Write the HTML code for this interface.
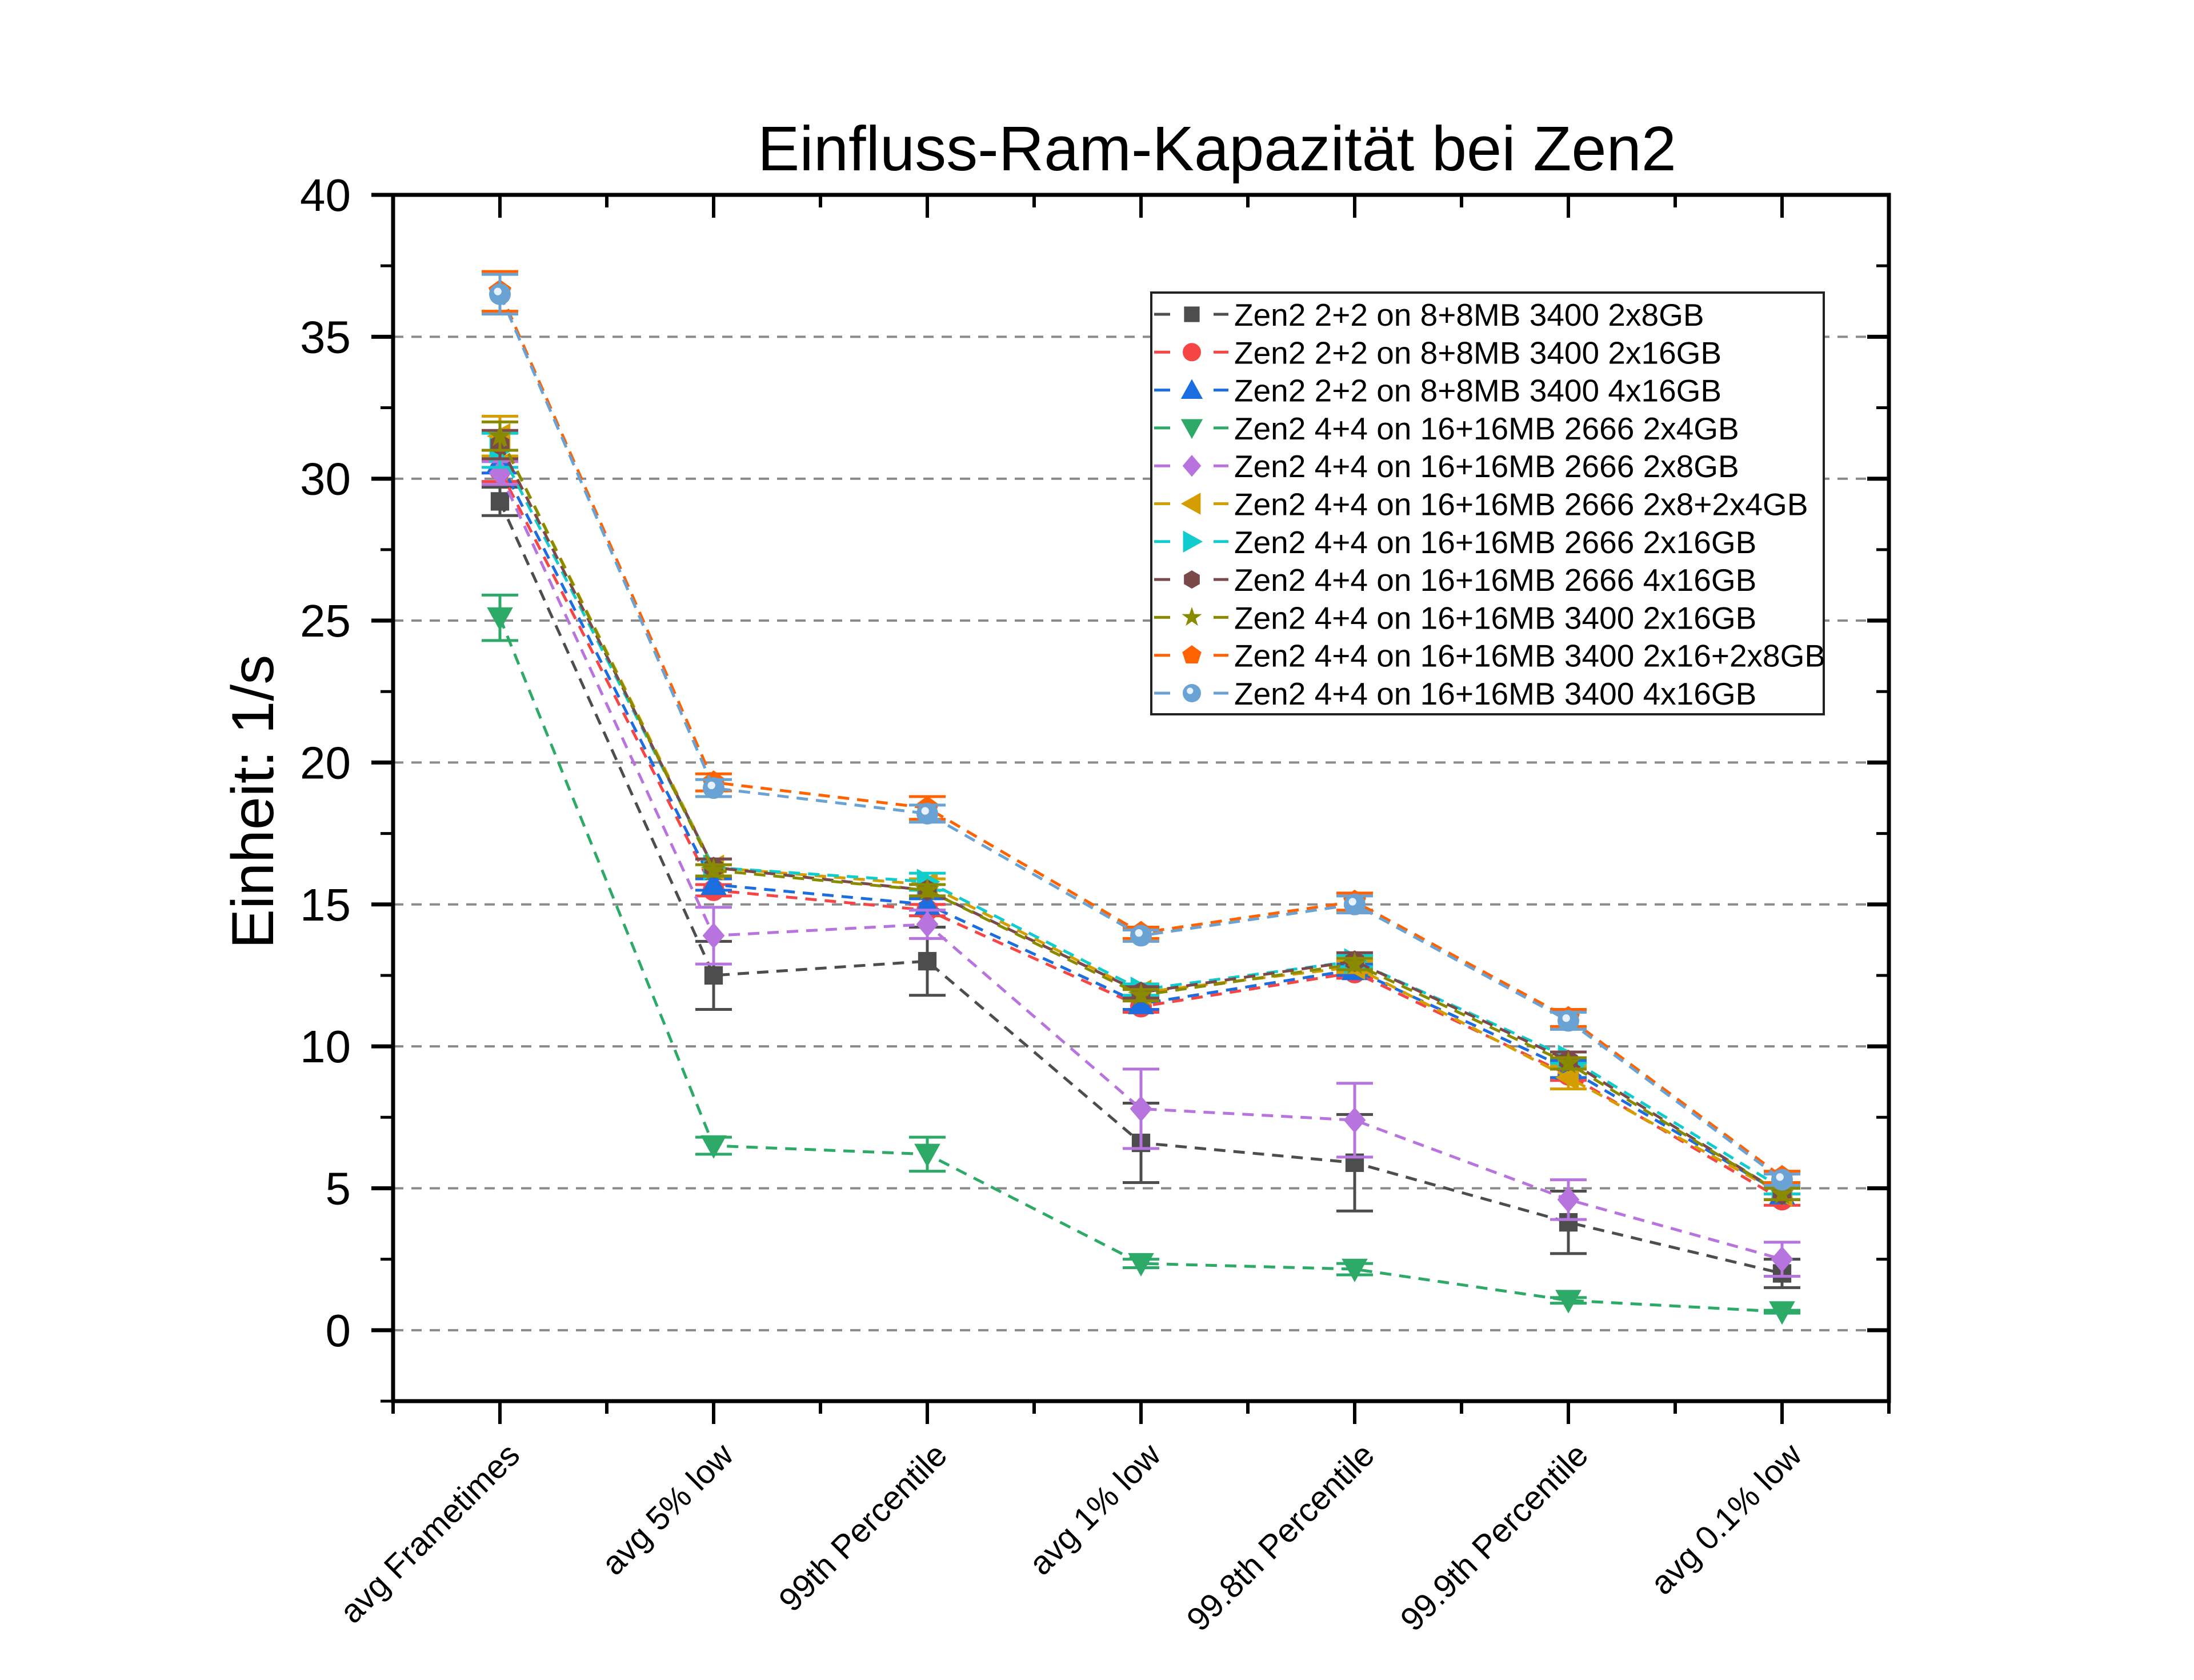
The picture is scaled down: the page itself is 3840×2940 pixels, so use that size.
<!DOCTYPE html>
<html><head><meta charset="utf-8"><style>html,body{margin:0;padding:0;background:#fff}svg{display:block}text{font-family:"Liberation Sans",Arial,sans-serif}</style></head>
<body>
<svg id="chart" xmlns="http://www.w3.org/2000/svg" width="3840" height="2940" viewBox="0 0 3840 2940">
<rect width="3840" height="2940" fill="#fff"/>
<text x="2130" y="298" font-size="110" text-anchor="middle">Einfluss-Ram-Kapazität bei Zen2</text>
<text transform="translate(478,1403) rotate(-90)" font-size="104" text-anchor="middle">Einheit:  1/s</text>
<g id="grid"></g><g id="series"></g><g id="axes"></g><g id="legend"></g>
</svg>
<script>
const categories = ["avg Frametimes","avg 5% low","99th Percentile","avg 1% low","99.8th Percentile","99.9th Percentile","avg 0.1% low"];
const yTicks = [0,5,10,15,20,25,30,35,40];
const seriesNames = ["Zen2 2+2 on 8+8MB 3400 2x8GB","Zen2 2+2 on 8+8MB 3400 2x16GB","Zen2 2+2 on 8+8MB 3400 4x16GB","Zen2 4+4 on 16+16MB 2666 2x4GB","Zen2 4+4 on 16+16MB 2666 2x8GB","Zen2 4+4 on 16+16MB 2666 2x8+2x4GB","Zen2 4+4 on 16+16MB 2666 2x16GB","Zen2 4+4 on 16+16MB 2666 4x16GB","Zen2 4+4 on 16+16MB 3400 2x16GB","Zen2 4+4 on 16+16MB 3400 2x16+2x8GB","Zen2 4+4 on 16+16MB 3400 4x16GB"];
const s1 = [29.2,12.5,13.0,6.6,5.9,3.8,2.0];  const e1 = [0.5,1.2,1.2,1.4,1.7,1.1,0.5];
const s2 = [30.3,15.5,14.8,11.4,12.6,9.0,4.6]; const e2 = [0.4,0.2,0.2,0.2,0.2,0.2,0.2];
const s3 = [30.6,15.7,15.0,11.5,12.7,9.2,4.8]; const e3 = [0.4,0.2,0.2,0.2,0.2,0.3,0.2];
const s4 = [25.1,6.5,6.2,2.35,2.15,1.05,0.65]; const e4 = [0.8,0.3,0.6,0.15,0.2,0.1,0.05];
const s5 = [30.2,13.9,14.3,7.8,7.4,4.6,2.5];  const e5 = [0.4,1.0,0.5,1.4,1.3,0.7,0.6];
const s6 = [31.5,16.3,15.7,11.9,12.8,8.9,4.8]; const e6 = [0.7,0.3,0.2,0.2,0.2,0.4,0.2];
const s7 = [31.0,16.3,15.8,12.0,13.0,9.6,5.0]; const e7 = [0.6,0.3,0.3,0.2,0.2,0.2,0.2];
const s8 = [31.2,16.3,15.5,11.9,13.0,9.5,4.8]; const e8 = [0.5,0.3,0.2,0.2,0.3,0.3,0.2];
const s9 = [31.5,16.2,15.5,11.8,12.9,9.4,4.8]; const e9 = [0.5,0.2,0.2,0.2,0.2,0.2,0.2];
const s10 = [36.6,19.3,18.4,14.0,15.1,11.0,5.4]; const e10 = [0.7,0.3,0.4,0.2,0.3,0.3,0.2];
const s11 = [36.5,19.1,18.2,13.9,15.0,10.9,5.3]; const e11 = [0.7,0.3,0.3,0.2,0.3,0.3,0.2];
const seriesVals = [s1,s2,s3,s4,s5,s6,s7,s8,s9,s10,s11];
const seriesErr = [e1,e2,e3,e4,e5,e6,e7,e8,e9,e10,e11];
const colors = ["#4d4d4d","#f64545","#1c6de0","#2eaa68","#b874de","#d49e00","#11cccc","#7a4a4a","#8a8a00","#ff6200","#6aa2d4"];
const shapes = ["square","circle","tri","tridown","diamond","triLeft","triRight","hex","star","pent","ball"];

const NS="http://www.w3.org/2000/svg";
const L=688,R=3306,T=341,B=2452,yMin=-2.5,yMax=40,xMin=-0.5,xMax=6.5;
function X(i){return L+(i-xMin)/(xMax-xMin)*(R-L);}
function Y(v){return B-(v-yMin)/(yMax-yMin)*(B-T);}
function mk(tag,attrs,parent){const e=document.createElementNS(NS,tag);for(const k in attrs)e.setAttribute(k,attrs[k]);parent.appendChild(e);return e;}

const grid=document.getElementById('grid');
yTicks.forEach(v=>{
  const g=mk('line',{x1:L,x2:R,y1:Y(v),y2:Y(v),stroke:'#8a8a8a','stroke-width':4,'stroke-dasharray':'18 14'},grid);
  
  
});

function marker(shape,cx,cy,c,parent,sz){
  const s=sz||19;let e;
  if(shape==='square')e=mk('rect',{x:cx-s*0.85,y:cy-s*0.85,width:s*1.7,height:s*1.7,fill:c},parent);
  else if(shape==='circle'||shape==='ball')e=mk('circle',{cx:cx,cy:cy,r:s,fill:c},parent);
  else if(shape==='hex'){const p=[];for(let k=0;k<6;k++){const a=Math.PI/6+k*Math.PI/3;p.push((cx+s*Math.cos(a))+','+(cy+s*Math.sin(a)));}e=mk('polygon',{points:p.join(' '),fill:c},parent);}
  else if(shape==='pent'){const p=[];for(let k=0;k<5;k++){const a=-Math.PI/2+k*2*Math.PI/5;p.push((cx+s*1.1*Math.cos(a))+','+(cy+s*1.1*Math.sin(a)));}e=mk('polygon',{points:p.join(' '),fill:c},parent);}
  else if(shape==='star'){const p=[];for(let k=0;k<10;k++){const a=-Math.PI/2+k*Math.PI/5;const r=k%2?s*0.45:s*1.15;p.push((cx+r*Math.cos(a))+','+(cy+r*Math.sin(a)));}e=mk('polygon',{points:p.join(' '),fill:c},parent);}
  else{let pts;const t=s*1.2;
    if(shape==='tri')pts=[[0,-t],[t,t*0.8],[-t,t*0.8]];
    else if(shape==='tridown')pts=[[0,t],[t,-t*0.8],[-t,-t*0.8]];
    else if(shape==='diamond')pts=[[0,-t],[t*0.85,0],[0,t],[-t*0.85,0]];
    else if(shape==='triLeft')pts=[[-t,0],[t*0.8,-t],[t*0.8,t]];
    else pts=[[t,0],[-t*0.8,-t],[-t*0.8,t]];
    e=mk('polygon',{points:pts.map(q=>(cx+q[0])+','+(cy+q[1])).join(' '),fill:c},parent);}
  if(shape==='ball')mk('circle',{cx:cx-s*0.2,cy:cy-s*0.25,r:s*0.35,fill:'#e8f2ff'},parent);
  return e;
}

const sg=document.getElementById('series');
seriesVals.forEach((vals,si)=>{
  const g=mk('g',{},sg);
  
  
  const c=colors[si];
  const pl=mk('polyline',{points:vals.map((v,i)=>X(i)+','+Y(v)).join(' '),fill:'none',stroke:c,'stroke-width':5,'stroke-dasharray':'20 14'},g);
  
  
  vals.forEach((v,i)=>{
    const er=seriesErr[si][i],x=X(i);
    const eb=mk('path',{d:`M${x},${Y(v+er)}V${Y(v-er)}M${x-32},${Y(v+er)}H${x+32}M${x-32},${Y(v-er)}H${x+32}`,stroke:c,'stroke-width':5,fill:'none'},g);
    
    
    const m=marker(shapes[si],x,Y(v),c,g);
    
    
  });
});

const ax=document.getElementById('axes');
mk('rect',{x:L,y:T,width:R-L,height:B-T,fill:'none',stroke:'#000','stroke-width':7},ax);
for(let v=-2.5;v<=40.01;v+=2.5){
  const major=Math.abs(v%5)<0.01;const len=major?38:22;
  mk('line',{x1:L-len,x2:L,y1:Y(v),y2:Y(v),stroke:'#000','stroke-width':major?7:5},ax);
  mk('line',{x1:R-len,x2:R,y1:Y(v),y2:Y(v),stroke:'#000','stroke-width':major?7:5},ax);
}
yTicks.forEach(v=>{
  const t=mk('text',{x:614,y:Y(v)+28,'font-size':80,'text-anchor':'end'},ax);
  t.textContent=v;
  
  
});
for(let k=-0.5;k<=6.51;k+=0.5){
  const major=Math.abs(k-Math.round(k))<0.01;const len=major?40:22;
  mk('line',{x1:X(k),x2:X(k),y1:B,y2:B+len,stroke:'#000','stroke-width':6},ax);
  mk('line',{x1:X(k),x2:X(k),y1:T,y2:T+len,stroke:'#000','stroke-width':6},ax);
}
categories.forEach((c,i)=>{
  const x=X(i)+38,y=2550;
  const t=mk('text',{x:x,y:y,'font-size':58,'text-anchor':'end',transform:`rotate(-45 ${x} ${y})`},ax);
  t.textContent=c;
  
  
});

const lg=document.getElementById('legend');


mk('rect',{x:2015,y:512,width:1177,height:738,fill:'#fff',stroke:'#222','stroke-width':4},lg);
seriesNames.forEach((n,si)=>{
  const cy=550+si*66.3,c=colors[si];
  const g=mk('g',{},lg);
  
  
  mk('line',{x1:2020,x2:2048,y1:cy,y2:cy,stroke:c,'stroke-width':5},g);
  mk('line',{x1:2124,x2:2150,y1:cy,y2:cy,stroke:c,'stroke-width':5},g);
  marker(shapes[si],2086,cy,c,g,16);
  const t=mk('text',{x:2160,y:cy+20,'font-size':55},g);
  t.textContent=n;
});
</script>
</body></html>
